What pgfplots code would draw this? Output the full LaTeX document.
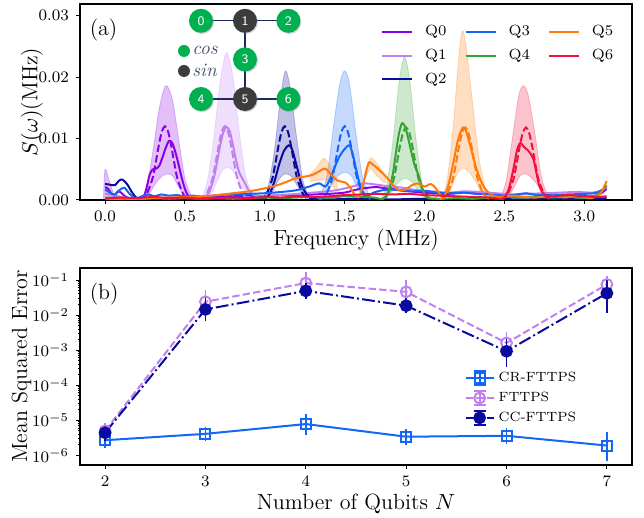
\documentclass[border=0pt]{standalone}
\usepackage{pgfplots}
\pgfplotsset{compat=1.18}
\usetikzlibrary{shadows}

\definecolor{q0}{HTML}{8C00E8}
\definecolor{q1}{HTML}{C080F2}
\definecolor{q2}{HTML}{0A0A9E}
\definecolor{q3}{HTML}{1466F5}
\definecolor{q4}{HTML}{37A337}
\definecolor{q5}{HTML}{FF7A0A}
\definecolor{q6}{HTML}{F0103C}
\definecolor{ngreen}{HTML}{00B050}
\definecolor{ndark}{HTML}{3C3C3C}
\definecolor{edgec}{HTML}{1C2B5E}
\definecolor{txtc}{HTML}{44546A}

\pgfplotsset{
  common/.style={
    scale only axis, width=276pt,
    tick align=outside, tick pos=left,
    major tick length=2pt, minor tick length=1.2pt,
    tick style={black, line width=0.5pt},
    axis line style={line width=0.6pt},
    tick label style={font=\fontsize{8}{9}\selectfont},
    label style={font=\fontsize{11}{13}\selectfont},
    xlabel shift=-3pt,
  },
  band/.style={fill=#1, fill opacity=0.25, draw=#1, draw opacity=0.25, line width=0.4pt, smooth, tension=0.5, forget plot},
  est/.style={#1, line width=1pt, smooth, tension=0.5, forget plot},
  tru/.style={#1, line width=1pt, dash pattern=on 3.7pt off 1.6pt, smooth, forget plot},
  eb/.style={error bars/.cd, y dir=both, y explicit,
    error bar style={solid, line width=0.9pt},
    error mark options={solid, mark size=3pt, line width=0.9pt}},
}

\begin{document}
\begin{tikzpicture}
\useasboundingbox (-40pt,-159pt) rectangle (282pt,100pt);

% (a) spectra
\begin{axis}[common, height=98pt, ylabel shift=-9pt,
  xmin=-0.157, xmax=3.299, ymin=0, ymax=0.0319,
  xtick={0,0.5,...,3.0}, ytick={0,0.01,0.02,0.03},
  scaled y ticks=false,
  xticklabel style={/pgf/number format/.cd, fixed, fixed zerofill, precision=1},
  yticklabel style={/pgf/number format/.cd, fixed, fixed zerofill, precision=2},
  xlabel={Frequency (MHz)}, ylabel={$S(\omega)$(MHz)},
  legend columns=3,
  legend cell align=left,
  legend style={draw=none, fill=none, at={(0.985,0.935)}, anchor=north east,
    font=\fontsize{7.4}{8}\selectfont, row sep=1.2pt,
    /tikz/every odd column/.append style={column sep=4pt},
    /tikz/every even column/.append style={column sep=7pt}},
  legend image code/.code={\draw[#1] (0pt,0pt) -- (15pt,0pt);},
]
% bands
\addplot[band=q0] coordinates {(-0.01,0)(0,0.005)(0.03,0.0028)(0.06,0.0006)(0.09,0)};
\addplot[band=q0] coordinates {(0.22,0)(0.26,0.002)(0.30,0.008)(0.34,0.015)(0.38,0.0186)(0.42,0.0165)(0.46,0.010)(0.50,0.0035)(0.54,0.0008)(0.58,0)
  (0.54,0.0002)(0.50,0.0006)(0.46,0.0022)(0.42,0.0040)(0.38,0.0042)(0.34,0.0035)(0.30,0.0020)(0.26,0.0004)(0.22,0)};
\addplot[band=q1] coordinates {(0.60,0)(0.64,0.003)(0.68,0.010)(0.72,0.019)(0.76,0.024)(0.80,0.020)(0.84,0.011)(0.88,0.004)(0.92,0.001)(0.95,0)
  (0.90,0.001)(0.86,0.002)(0.82,0.004)(0.78,0.0052)(0.74,0.005)(0.70,0.003)(0.66,0.0008)(0.60,0)};
\addplot[band=q2] coordinates {(0.98,0)(1.02,0.002)(1.06,0.008)(1.10,0.017)(1.13,0.021)(1.16,0.018)(1.20,0.010)(1.24,0.003)(1.28,0.0005)(1.30,0)
  (1.25,0.0005)(1.20,0.0025)(1.16,0.004)(1.12,0.0042)(1.08,0.003)(1.04,0.001)(0.98,0)};
\addplot[band=q3] coordinates {(1.35,0.001)(1.39,0.004)(1.43,0.012)(1.47,0.019)(1.50,0.021)(1.53,0.019)(1.57,0.011)(1.61,0.004)(1.65,0.0008)
  (1.62,0.0005)(1.58,0.002)(1.54,0.004)(1.50,0.0045)(1.46,0.004)(1.42,0.0025)(1.38,0.0008)};
\addplot[band=q5] coordinates {(1.28,0.004)(1.33,0.0055)(1.37,0.0068)(1.41,0.0055)(1.45,0.003)
  (1.45,0.0015)(1.41,0.0028)(1.37,0.0033)(1.33,0.0032)(1.28,0.003)};
\addplot[band=q5] coordinates {(1.62,0.004)(1.66,0.0068)(1.70,0.006)(1.75,0.004)
  (1.75,0.0028)(1.70,0.004)(1.66,0.005)(1.62,0.003)};
\addplot[band=q4] coordinates {(1.72,0)(1.76,0.002)(1.80,0.009)(1.84,0.019)(1.875,0.0233)(1.91,0.019)(1.95,0.009)(1.99,0.002)(2.02,0)
  (2.00,0.0003)(1.96,0.0015)(1.92,0.003)(1.88,0.0035)(1.84,0.003)(1.80,0.0015)(1.76,0.0002)};
\addplot[band=q5] coordinates {(2.10,0)(2.14,0.003)(2.18,0.012)(2.21,0.022)(2.235,0.0275)(2.26,0.025)(2.30,0.016)(2.34,0.007)(2.38,0.002)(2.42,0.0003)
  (2.40,0.0003)(2.36,0.001)(2.32,0.003)(2.28,0.0045)(2.24,0.0052)(2.20,0.004)(2.16,0.0015)(2.12,0.0002)};
\addplot[band=q6] coordinates {(2.47,0)(2.51,0.003)(2.55,0.010)(2.59,0.017)(2.62,0.0186)(2.65,0.017)(2.69,0.011)(2.73,0.004)(2.77,0.0008)(2.80,0)
  (2.76,0.0003)(2.72,0.002)(2.68,0.0033)(2.64,0.0042)(2.60,0.004)(2.56,0.002)(2.52,0.0005)(2.47,0)};

% estimated spectra
\addplot[est=q0] coordinates {(0,0.0021)(0.02,0.0018)(0.04,0.0010)(0.06,0.0007)(0.08,0.0014)(0.10,0.0012)(0.13,0.0005)(0.17,0.0002)(0.21,0.0001)(0.24,0.0004)(0.26,0.0020)(0.28,0.0042)(0.30,0.0050)(0.32,0.0051)(0.34,0.0056)(0.36,0.0070)(0.38,0.0085)(0.40,0.0096)(0.42,0.0093)(0.44,0.0078)(0.46,0.0058)(0.48,0.0036)(0.50,0.0018)(0.52,0.0007)(0.55,0.0002)(0.60,0.0002)(0.65,0.0004)(0.70,0.0005)(0.80,0.0006)(0.90,0.0007)(1.00,0.0006)(1.10,0.0008)(1.20,0.0007)(1.30,0.0009)(1.40,0.0010)(1.50,0.0012)(1.56,0.0016)(1.62,0.0019)(1.70,0.0021)(1.78,0.0018)(1.86,0.0016)(1.95,0.0013)(2.05,0.0011)(2.15,0.0010)(2.25,0.0012)(2.35,0.0011)(2.45,0.0009)(2.55,0.0006)(2.65,0.0005)(2.75,0.0006)(2.85,0.0008)(2.95,0.0007)(3.05,0.0006)(3.10,0.0010)(3.14,0.0018)};
\addplot[tru=q0] coordinates {(0.215,0.0001)(0.255,0.0007)(0.295,0.0033)(0.315,0.0058)(0.335,0.0087)(0.355,0.0111)(0.375,0.0120)(0.395,0.0111)(0.415,0.0087)(0.435,0.0058)(0.455,0.0033)(0.495,0.0007)(0.535,0.0001)};
\addplot[est=q1] coordinates {(0,0.0010)(0.05,0.0008)(0.10,0.0005)(0.15,0.0003)(0.20,0.0002)(0.30,0.0003)(0.40,0.0004)(0.50,0.0003)(0.58,0.0002)(0.62,0.0004)(0.65,0.0012)(0.68,0.0035)(0.70,0.0060)(0.72,0.0088)(0.74,0.0110)(0.76,0.0119)(0.78,0.0112)(0.80,0.0090)(0.82,0.0065)(0.84,0.0045)(0.86,0.0035)(0.88,0.0025)(0.90,0.0015)(0.93,0.0008)(0.97,0.0006)(1.05,0.0008)(1.15,0.0009)(1.25,0.0011)(1.35,0.0013)(1.45,0.0016)(1.55,0.0022)(1.62,0.0027)(1.70,0.0025)(1.78,0.0022)(1.86,0.0020)(1.95,0.0016)(2.05,0.0014)(2.15,0.0012)(2.25,0.0014)(2.35,0.0013)(2.45,0.0011)(2.55,0.0009)(2.65,0.0010)(2.75,0.0011)(2.85,0.0012)(2.95,0.0013)(3.05,0.0012)(3.10,0.0015)(3.14,0.0020)};
\addplot[tru=q1] coordinates {(0.59,0.0001)(0.63,0.0007)(0.67,0.0033)(0.69,0.0058)(0.71,0.0087)(0.73,0.0111)(0.75,0.0120)(0.77,0.0111)(0.79,0.0087)(0.81,0.0058)(0.83,0.0033)(0.87,0.0007)(0.91,0.0001)};
\addplot[est=q2] coordinates {(0,0.0026)(0.03,0.0025)(0.06,0.0024)(0.09,0.0032)(0.11,0.0033)(0.14,0.0025)(0.17,0.0012)(0.20,0.0003)(0.25,0.0001)(0.35,0.0002)(0.45,0.0001)(0.55,0.0002)(0.65,0.0001)(0.75,0.0002)(0.85,0.0002)(0.95,0.0001)(1.00,0.0002)(1.03,0.0010)(1.06,0.0030)(1.09,0.0058)(1.12,0.0080)(1.15,0.0089)(1.17,0.0083)(1.19,0.0065)(1.21,0.0045)(1.23,0.0025)(1.26,0.0010)(1.30,0.0002)(1.40,0.0001)(1.60,0.0002)(1.80,0.0001)(2.00,0.0002)(2.20,0.0001)(2.40,0.0002)(2.60,0.0001)(2.80,0.0002)(3.00,0.0001)(3.14,0.0003)};
\addplot[tru=q2] coordinates {(0.965,0.0001)(1.005,0.0007)(1.045,0.0033)(1.065,0.0058)(1.085,0.0087)(1.105,0.0111)(1.125,0.0120)(1.145,0.0111)(1.165,0.0087)(1.185,0.0058)(1.205,0.0033)(1.245,0.0007)(1.285,0.0001)};
\addplot[est=q3] coordinates {(0,0.0017)(0.03,0.0012)(0.06,0.0009)(0.09,0.0016)(0.12,0.0020)(0.15,0.0011)(0.19,0.0003)(0.23,0.0006)(0.27,0.0009)(0.31,0.0006)(0.35,0.0009)(0.40,0.0007)(0.45,0.0008)(0.50,0.0006)(0.55,0.0007)(0.62,0.0005)(0.70,0.0008)(0.80,0.0009)(0.90,0.0010)(1.00,0.0011)(1.10,0.0013)(1.20,0.0016)(1.28,0.0022)(1.34,0.0027)(1.38,0.0022)(1.41,0.0035)(1.44,0.0055)(1.47,0.0072)(1.50,0.0083)(1.53,0.0089)(1.55,0.0075)(1.57,0.0052)(1.59,0.0030)(1.61,0.0015)(1.64,0.0006)(1.68,0.0012)(1.74,0.0016)(1.80,0.0017)(1.86,0.0015)(1.92,0.0014)(2.00,0.0015)(2.08,0.0012)(2.16,0.0011)(2.24,0.0012)(2.32,0.0010)(2.40,0.0009)(2.50,0.0007)(2.58,0.0009)(2.64,0.0011)(2.70,0.0008)(2.80,0.0008)(2.90,0.0009)(3.00,0.0010)(3.08,0.0012)(3.14,0.0022)};
\addplot[tru=q3] coordinates {(1.34,0.0001)(1.38,0.0007)(1.42,0.0033)(1.44,0.0058)(1.46,0.0087)(1.48,0.0111)(1.50,0.0120)(1.52,0.0111)(1.54,0.0087)(1.56,0.0058)(1.58,0.0033)(1.62,0.0007)(1.66,0.0001)};
\addplot[est=q4] coordinates {(0,0.0004)(0.1,0.0003)(0.2,0.0001)(0.3,0.0003)(0.4,0.0002)(0.5,0.0003)(0.6,0.0002)(0.7,0.0003)(0.8,0.0002)(0.9,0.0003)(1.0,0.0004)(1.1,0.0003)(1.2,0.0004)(1.3,0.0005)(1.4,0.0004)(1.5,0.0006)(1.6,0.0005)(1.68,0.0004)(1.74,0.0002)(1.77,0.0012)(1.80,0.0040)(1.82,0.0075)(1.84,0.0108)(1.86,0.0125)(1.88,0.0118)(1.90,0.0098)(1.92,0.0075)(1.94,0.0055)(1.96,0.0042)(1.98,0.0025)(2.00,0.0010)(2.03,0.0003)(2.10,0.0002)(2.20,0.0003)(2.30,0.0002)(2.40,0.0004)(2.50,0.0005)(2.60,0.0004)(2.70,0.0005)(2.80,0.0004)(2.90,0.0005)(3.00,0.0004)(3.08,0.0008)(3.14,0.0024)};
\addplot[tru=q4] coordinates {(1.725,0.0001)(1.765,0.0007)(1.805,0.0032)(1.825,0.0057)(1.845,0.0086)(1.865,0.0109)(1.885,0.0118)(1.905,0.0109)(1.925,0.0086)(1.945,0.0057)(1.965,0.0032)(2.005,0.0007)(2.045,0.0001)};
\addplot[est=q5] coordinates {(0,0.0001)(0.1,0.0002)(0.2,0.0002)(0.3,0.0003)(0.4,0.0004)(0.5,0.0005)(0.6,0.0006)(0.7,0.0008)(0.8,0.0011)(0.9,0.0014)(0.98,0.0018)(1.05,0.0022)(1.10,0.0026)(1.15,0.0031)(1.20,0.0036)(1.25,0.0038)(1.30,0.0041)(1.35,0.0048)(1.38,0.0051)(1.42,0.0040)(1.46,0.0031)(1.50,0.0029)(1.53,0.0022)(1.56,0.0010)(1.59,0.0005)(1.62,0.0030)(1.65,0.0060)(1.68,0.0057)(1.72,0.0048)(1.76,0.0038)(1.80,0.0025)(1.84,0.0016)(1.88,0.0017)(1.92,0.0024)(1.96,0.0027)(2.00,0.0022)(2.04,0.0026)(2.07,0.0019)(2.10,0.0008)(2.12,0.0004)(2.15,0.0025)(2.18,0.0060)(2.21,0.0098)(2.24,0.0118)(2.26,0.0112)(2.29,0.0085)(2.32,0.0055)(2.35,0.0033)(2.38,0.0018)(2.42,0.0008)(2.47,0.0005)(2.55,0.0007)(2.62,0.0005)(2.70,0.0004)(2.80,0.0007)(2.88,0.0004)(2.96,0.0007)(3.04,0.0003)(3.10,0.0010)(3.14,0.0031)};
\addplot[tru=q5] coordinates {(2.095,0.0001)(2.135,0.0007)(2.175,0.0032)(2.195,0.0057)(2.215,0.0086)(2.235,0.0109)(2.255,0.0118)(2.275,0.0109)(2.295,0.0086)(2.315,0.0057)(2.335,0.0032)(2.375,0.0007)(2.415,0.0001)};
\addplot[est=q6] coordinates {(0,0.0002)(0.1,0.0004)(0.2,0.0003)(0.3,0.0005)(0.4,0.0003)(0.5,0.0004)(0.6,0.0002)(0.7,0.0003)(0.8,0.0004)(0.9,0.0003)(1.0,0.0005)(1.1,0.0004)(1.2,0.0006)(1.3,0.0005)(1.4,0.0006)(1.5,0.0008)(1.6,0.0009)(1.7,0.0010)(1.8,0.0009)(1.9,0.0010)(2.0,0.0008)(2.1,0.0007)(2.2,0.0006)(2.3,0.0005)(2.4,0.0004)(2.47,0.0002)(2.50,0.0004)(2.53,0.0020)(2.56,0.0055)(2.58,0.0082)(2.60,0.0093)(2.62,0.0087)(2.65,0.0080)(2.68,0.0068)(2.70,0.0045)(2.72,0.0022)(2.75,0.0009)(2.80,0.0006)(2.90,0.0008)(3.00,0.0006)(3.08,0.0005)(3.14,0.0006)};
\addplot[tru=q6] coordinates {(2.475,0.0001)(2.515,0.0007)(2.555,0.0032)(2.575,0.0057)(2.595,0.0086)(2.615,0.0109)(2.635,0.0118)(2.655,0.0109)(2.675,0.0086)(2.695,0.0057)(2.715,0.0032)(2.755,0.0007)(2.795,0.0001)};

% legend, filled row by row so that it reads column by column
\addlegendimage{q0, line width=1pt}\addlegendentry{Q0}
\addlegendimage{q3, line width=1pt}\addlegendentry{Q3}
\addlegendimage{q5, line width=1pt}\addlegendentry{Q5}
\addlegendimage{q1, line width=1pt}\addlegendentry{Q1}
\addlegendimage{q4, line width=1pt}\addlegendentry{Q4}
\addlegendimage{q6, line width=1pt}\addlegendentry{Q6}
\addlegendimage{q2, line width=1pt}\addlegendentry{Q2}

\node[anchor=north west, font=\fontsize{11}{13}\selectfont] at (rel axis cs:0.005,0.96) {(a)};
\end{axis}

% qubit layout inset
\draw[edgec, line width=0.7pt] (60.5pt,89.6pt) -- (104.2pt,89.6pt)
  (82.5pt,89.6pt) -- (82.5pt,50.5pt) (60.5pt,50.5pt) -- (104.2pt,50.5pt);
\begin{scope}[every node/.style={circle, minimum size=12pt, inner sep=0pt, text=white,
    font=\sffamily\fontsize{6.5}{7}\selectfont,
    drop shadow={shadow xshift=0.5pt, shadow yshift=-0.6pt, opacity=0.35}}]
\node[fill=ngreen] at (60.5pt,89.6pt) {0};
\node[fill=ndark] at (82.5pt,89.6pt) {1};
\node[fill=ngreen] at (104.2pt,89.6pt) {2};
\node[fill=ngreen] at (82.5pt,70.3pt) {3};
\node[fill=ngreen] at (60.5pt,50.5pt) {4};
\node[fill=ndark] at (82.5pt,50.5pt) {5};
\node[fill=ngreen] at (104.2pt,50.5pt) {6};
\end{scope}
\fill[ngreen] (52pt,74.5pt) circle (3pt);
\fill[ndark] (52pt,64.5pt) circle (3pt);
\node[anchor=west, text=txtc, font=\itshape\fontsize{9.5}{10}\selectfont, inner sep=0pt] at (56pt,75pt) {cos};
\node[anchor=west, text=txtc, font=\itshape\fontsize{9.5}{10}\selectfont, inner sep=0pt] at (56pt,65pt) {sin};

% (b) mean squared error
\begin{axis}[common, at={(0pt,-132.5pt)}, height=98.5pt, ylabel shift=-6.5pt,
  ymode=log, xmin=1.75, xmax=7.25, ymin=5.3e-7, ymax=0.22,
  xtick={2,3,4,5,6,7}, ytick={1e-6,1e-5,1e-4,1e-3,1e-2,1e-1},
  xlabel={Number of Qubits $N$}, ylabel={Mean Squared Error},
  legend cell align=left,
  legend style={draw=none, fill=none, at={(0.918,0.34)}, anchor=east,
    font=\fontsize{6.7}{7}\selectfont, row sep=-0.3pt},
  legend image code/.code={
    \draw[#1] (0pt,0pt) -- (14pt,0pt);
    \draw[#1, solid, mark=none] (7pt,-3.5pt) -- (7pt,3.5pt) (4pt,-3.5pt) -- (10pt,-3.5pt) (4pt,3.5pt) -- (10pt,3.5pt);
    \draw[#1] plot coordinates {(7pt,0pt)};
  },
]
\addplot[q3, line width=1pt, mark=square, mark size=2.5pt, mark options={solid}, eb] coordinates {
  (2,2.7e-6) +- (0,0.3e-6)
  (3,4.1e-6) +- (0,0.3e-6)
  (4,7.8e-6) +- (0,2.2e-6)
  (5,3.4e-6) +- (0,0.4e-6)
  (6,3.6e-6) +- (0,0.4e-6)
  (7,1.9e-6) += (0,1.3e-6) -= (0,0.9e-6)
};
\addlegendentry{CR-FTTPS}
\addplot[q1, line width=1pt, dash pattern=on 3.7pt off 1.6pt, mark=o, mark size=2.7pt, mark options={solid}, eb] coordinates {
  (2,5.0e-6) +- (0,0.6e-6)
  (3,2.4e-2) += (0,1.1e-2) -= (0,0.7e-2)
  (4,8.2e-2) +- (0,3.2e-2)
  (5,4.6e-2) += (0,2.3e-2) -= (0,1.5e-2)
  (6,1.6e-3) += (0,0.55e-3) -= (0,0.35e-3)
  (7,7.5e-2) +- (0,1.0e-2)
};
\addlegendentry{FTTPS}
\addplot[q2, line width=1pt, dash pattern=on 6.4pt off 1.6pt on 1pt off 1.6pt, mark=*, mark size=2.7pt, mark options={solid}, eb] coordinates {
  (2,4.4e-6) +- (0,0.6e-6)
  (3,1.45e-2) += (0,0.7e-2) -= (0,0.45e-2)
  (4,4.9e-2) +- (0,0.5e-2)
  (5,1.85e-2) +- (0,0.2e-2)
  (6,9.3e-4) += (0,0.7e-3) -= (0,0.43e-3)
  (7,4.2e-2) += (0,3.0e-2) -= (0,2.5e-2)
};
\addlegendentry{CC-FTTPS}
\node[anchor=north west, font=\fontsize{11}{13}\selectfont] at (rel axis cs:0.005,0.96) {(b)};
\end{axis}
\end{tikzpicture}
\end{document}
